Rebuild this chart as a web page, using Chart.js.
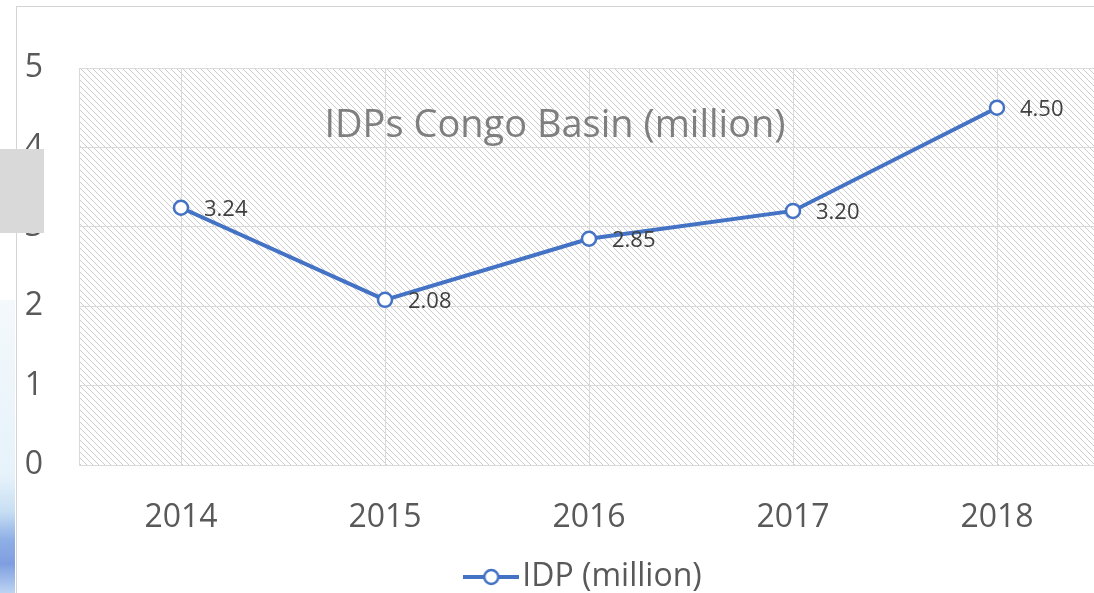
<!DOCTYPE html>
<html>
<head>
<meta charset="utf-8">
<script src="https://cdn.jsdelivr.net/npm/chart.js@4/dist/chart.umd.min.js"></script>
<style>
  html, body { margin: 0; padding: 0; background: #fff; overflow: hidden; }
  #wrap { position: absolute; left: 0; top: 0; width: 1110px; height: 593px; }
  .frame { position: absolute; left: 16px; top: 6px; width: 1100px; height: 600px; border-left: 1px solid #d4d4d4; border-top: 1px solid #d4d4d4; }
  .strip { position: absolute; left: 0; top: 300px; width: 15px; height: 293px; background: linear-gradient(#f4f9fc, #e6f2fa 60%, #c8dff3 72%, #8eaee6 82%, #7f9ee0 90%, #bcd4f2); }
  .box { position: absolute; left: 0; top: 149px; width: 44px; height: 84px; background: #d9d9d9; }
</style>
</head>
<body>
<div class="strip"></div>
<div class="frame"></div>
<div id="wrap"><canvas id="chart" width="1110" height="593"></canvas></div>
<div class="box"></div>
<script>
var years = ['2014', '2015', '2016', '2017', '2018'];
var idp = [3.24, 2.08, 2.85, 3.20, 4.50];
var yTicks = [0, 1, 2, 3, 4, 5];

var blue = '#4472C4';
var grey = '#595959';

// diagonal hatch for the plot area
function hatch() {
    var c = document.createElement('canvas');
    c.width = 6; c.height = 6;
    var g = c.getContext('2d');
    g.fillStyle = '#fff';
    g.fillRect(0, 0, 6, 6);
    g.fillStyle = '#cdcdcd';
    for (var i = 0; i < 6; i++) g.fillRect(i, i, 1, 1);
    return g.createPattern(c, 'repeat');
}

// legend symbol: line with open marker
function legendMark() {
    var c = document.createElement('canvas');
    c.width = 56; c.height = 20;
    var g = c.getContext('2d');
    g.strokeStyle = blue;
    g.lineWidth = 4;
    g.beginPath(); g.moveTo(0, 10); g.lineTo(56, 10); g.stroke();
    g.fillStyle = '#fff';
    g.lineWidth = 2.5;
    g.beginPath(); g.arc(28, 10, 7, 0, Math.PI * 2); g.fill(); g.stroke();
    return c;
}

var plotBg = {
    id: 'plotBg',
    beforeDraw: function(chart) {
        var a = chart.chartArea, ctx = chart.ctx;
        ctx.save();
        ctx.fillStyle = hatch();
        ctx.fillRect(a.left, a.top, a.right - a.left, a.bottom - a.top);
        ctx.restore();
    }
};

var innerTitle = {
    id: 'innerTitle',
    beforeDatasetsDraw: function(chart) {
        var ctx = chart.ctx;
        ctx.save();
        ctx.font = '38px "Open Sans"';
        ctx.fillStyle = '#7f7f7f';
        ctx.textAlign = 'center';
        ctx.textBaseline = 'middle';
        ctx.fillText('IDPs Congo Basin (million)', chart.width / 2, chart.chartArea.top + 58);
        ctx.restore();
    }
};

var pointLabels = {
    id: 'pointLabels',
    afterDatasetsDraw: function(chart) {
        var ctx = chart.ctx;
        var meta = chart.getDatasetMeta(0);
        ctx.save();
        ctx.font = '22px "Open Sans"';
        ctx.fillStyle = '#404040';
        ctx.textAlign = 'left';
        ctx.textBaseline = 'middle';
        meta.data.forEach(function(pt, i) {
            ctx.fillText(idp[i].toFixed(2), pt.x + 23, pt.y + 2);
        });
        ctx.restore();
    }
};

new Chart(document.getElementById('chart'), {
    type: 'line',
    data: {
        labels: years,
        datasets: [{
            label: 'IDP (million)',
            data: idp,
            borderColor: blue,
            borderWidth: 4,
            pointRadius: 7,
            pointHoverRadius: 7,
            pointBackgroundColor: '#fff',
            pointBorderColor: blue,
            pointBorderWidth: 2.5,
            tension: 0
        }]
    },
    options: {
        responsive: false,
        animation: false,
        layout: { padding: { top: 68, right: 11, bottom: -10, left: 0 } },
        plugins: {
            tooltip: { enabled: false },
            legend: {
                position: 'bottom',
                fullSize: false,
                labels: {
                    usePointStyle: true,
                    pointStyle: legendMark(),
                    pointStyleWidth: 30,
                    padding: 1,
                    color: grey,
                    font: { family: '"Open Sans"', size: 32 }
                }
            }
        },
        scales: {
            x: {
                offset: true,
                grid: { offset: false, color: '#d9d9d9', drawTicks: false },
                border: { color: '#d9d9d9' },
                ticks: { color: grey, padding: 34, font: { family: '"Open Sans"', size: 32 } },
                afterFit: function(s) { s.height = 95; }
            },
            y: {
                min: 0,
                max: 5,
                afterBuildTicks: function(s) { s.ticks = yTicks.map(function(v) { return { value: v }; }); },
                grid: { color: '#d9d9d9', drawTicks: false },
                border: { color: '#d9d9d9' },
                ticks: { color: grey, padding: 36, font: { family: '"Open Sans"', size: 32 } },
                afterFit: function(s) { s.width = 79; }
            }
        }
    },
    plugins: [plotBg, innerTitle, pointLabels]
});
</script>
</body>
</html>
